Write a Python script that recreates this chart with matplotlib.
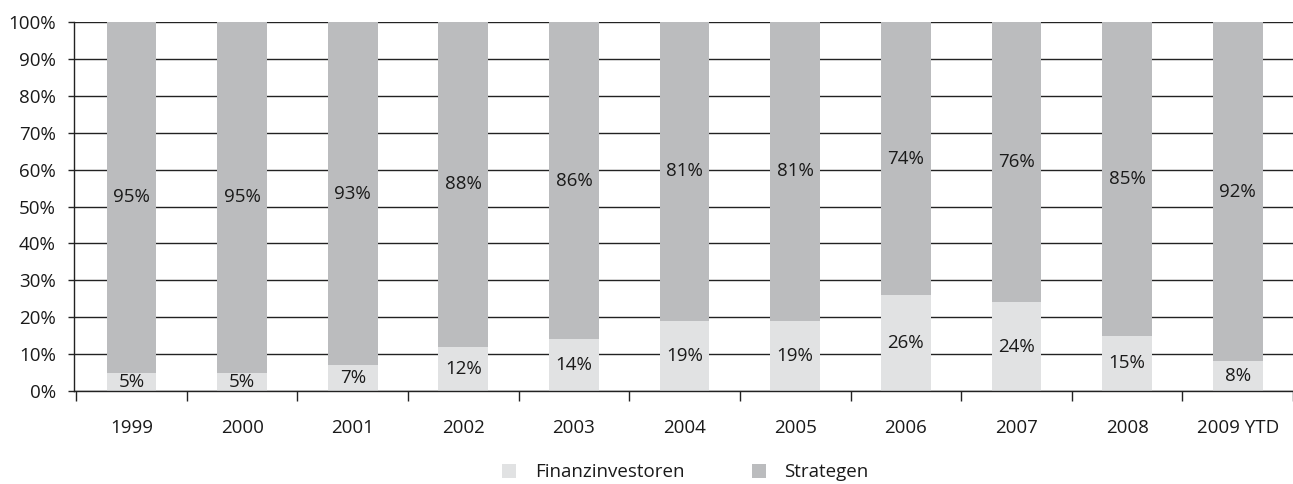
import matplotlib.pyplot as plt
import numpy as np

plt.rcParams['font.family'] = ['Open Sans', 'DejaVu Sans']

# Anteile je Jahr (in %)
years = ['1999', '2000', '2001', '2002', '2003', '2004', '2005', '2006', '2007', '2008', '2009 YTD']
finanzinvestoren = [5, 5, 7, 12, 14, 19, 19, 26, 24, 15, 8]
strategen = [95, 95, 93, 88, 86, 81, 81, 74, 76, 85, 92]

c_fin = '#e1e2e3'
c_str = '#bbbcbe'
fs = 13.5

fig = plt.figure(figsize=(12.93, 4.84), dpi=100)
ax = fig.add_axes([74 / 1293, 1 - 391 / 484, (1293 - 74) / 1293, (391 - 22) / 484])

x = np.arange(len(years))
w = 0.45
ax.bar(x, finanzinvestoren, w, color=c_fin, label='Finanzinvestoren', zorder=2)
ax.bar(x, strategen, w, bottom=finanzinvestoren, color=c_str, label='Strategen', zorder=2)

# Werte mittig in die Segmente schreiben
for i in range(len(years)):
    f = finanzinvestoren[i]
    s = strategen[i]
    ax.text(x[i], f / 2, f'{f}%', ha='center', va='center', fontsize=fs, color='#1a1a1a', zorder=3)
    ax.text(x[i], f + s / 2, f'{s}%', ha='center', va='center', fontsize=fs, color='#1a1a1a', zorder=3)

ax.set_ylim(0, 100)
ax.set_xlim(-0.52, 10.35)
ax.set_yticks(range(0, 101, 10))
ax.set_yticklabels([f'{v}%' for v in range(0, 101, 10)], fontsize=fs, color='#1a1a1a')
ax.yaxis.grid(True, color='#222222', linewidth=1, zorder=0)
ax.set_axisbelow(True)

ax.set_xticks(np.arange(len(years) + 1) - 0.5, minor=False)
ax.set_xticklabels([])
ax.set_xticks(x, minor=True)
ax.set_xticklabels(years, minor=True, fontsize=fs, color='#1a1a1a')
ax.tick_params(axis='x', which='major', length=7, width=1, color='#222222')
ax.tick_params(axis='x', which='minor', length=0, pad=20)
ax.tick_params(axis='y', length=4, width=1, color='#222222', pad=9)

for side in ['top', 'right']:
    ax.spines[side].set_visible(False)
for side in ['left', 'bottom']:
    ax.spines[side].set_color('#222222')
    ax.spines[side].set_linewidth(1)

fig.legend(loc='center', bbox_to_anchor=(0.53, 0.024), ncol=2, frameon=False,
           fontsize=fs, handlelength=0.75, handleheight=0.75, columnspacing=3.6, handletextpad=1.0,
           labelcolor='#1a1a1a', borderpad=0.1)

fig.savefig('out.png', dpi=100)
